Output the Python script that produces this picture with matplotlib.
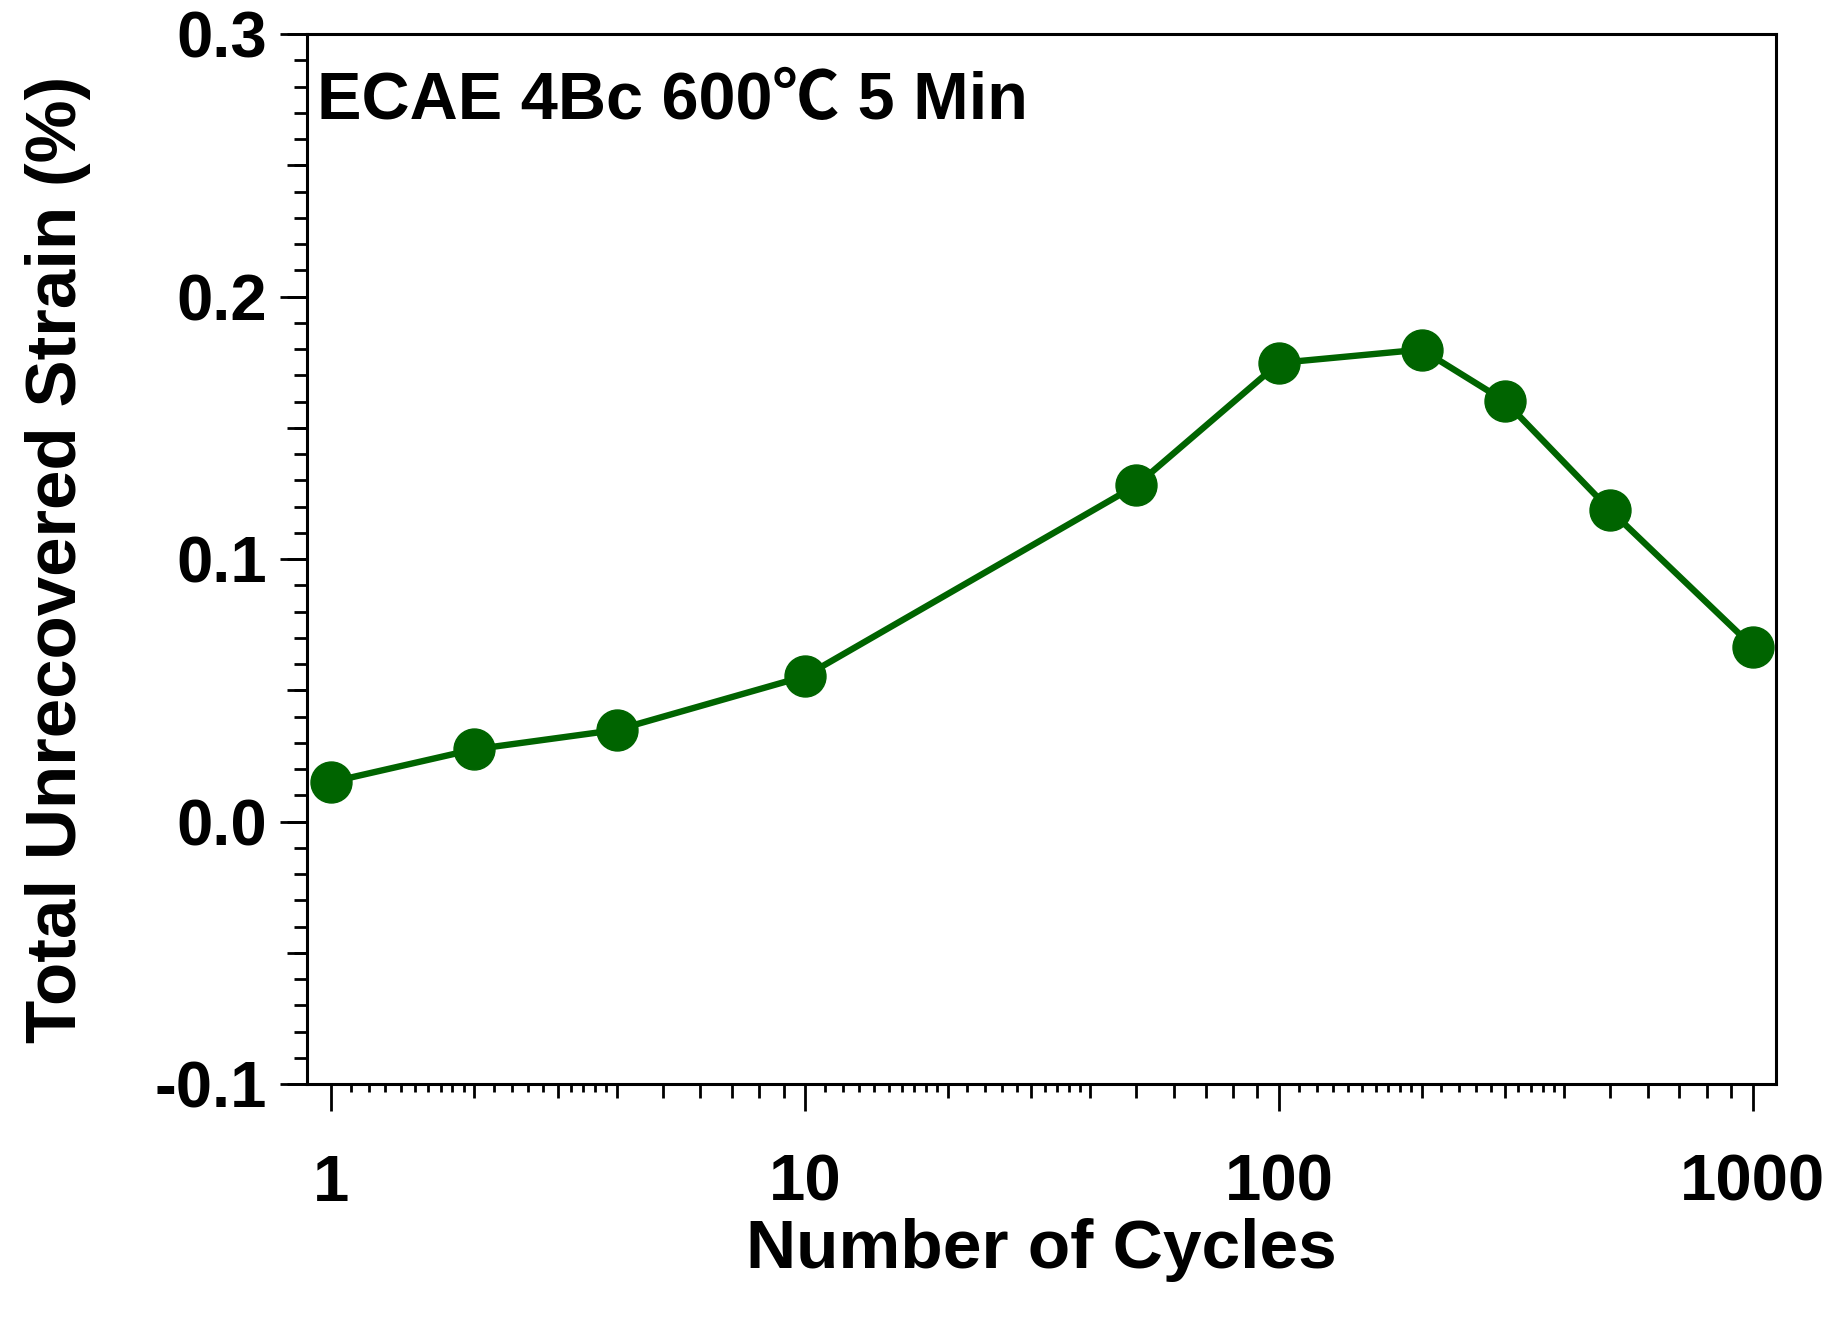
import matplotlib
matplotlib.use("Agg")
import matplotlib.pyplot as plt
import numpy as np
from matplotlib.ticker import (FixedLocator, FixedFormatter, MultipleLocator,
                               NullLocator, NullFormatter)

# data
cycles = [1, 2, 4, 10, 50, 100, 200, 300, 500, 1000]
strain = [0.0151, 0.0275, 0.0349, 0.0554, 0.1281, 0.1747, 0.1798, 0.1601, 0.1186, 0.0666]

x_major = [1, 10, 100, 1000]
x_major_labels = ["1", "10", "100", "1000"]
y_major = [-0.1, 0.0, 0.1, 0.2, 0.3]
y_major_labels = ["-0.1", "0.0", "0.1", "0.2", "0.3"]

annotation = "ECAE 4Bc 600\u2103 5 Min"
xlabel = "Number of Cycles"
ylabel = "Total Unrecovered Strain (%)"

plt.rcParams["font.family"] = ["Liberation Sans", "Noto Sans CJK SC", "DejaVu Sans"]
plt.rcParams["font.weight"] = "bold"

GREEN = "#006400"

# Origin-style log ticks: long at decades, medium at 2..9, short in between
decades = [1, 10, 100]
fine = np.r_[np.arange(1.1, 1.95, 0.1), np.arange(2.2, 2.9, 0.2), np.arange(3.2, 3.9, 0.2)]
x_mid = [d * m for d in decades for m in range(2, 10)]
x_fine = [d * f for d in decades for f in fine]

fig = plt.figure(figsize=(18.43, 13.18), dpi=100)
ax = fig.add_axes([0.1666, 0.1775, 0.7971, 0.7967])

ax.plot(cycles, strain, "-o", color=GREEN, lw=4.6, ms=29.5,
        markeredgecolor=GREEN, zorder=3)

ax.set_xscale("log")
ax.set_xlim(0.888, 1120)
ax.set_ylim(-0.1, 0.3)

ax.xaxis.set_major_locator(FixedLocator(x_major))
ax.xaxis.set_major_formatter(FixedFormatter(x_major_labels))
ax.xaxis.set_minor_locator(FixedLocator(x_fine))
ax.xaxis.set_minor_formatter(NullFormatter())
ax.yaxis.set_major_locator(FixedLocator(y_major))
ax.yaxis.set_major_formatter(FixedFormatter(y_major_labels))
ax.yaxis.set_minor_locator(MultipleLocator(0.01))

for sp in ax.spines.values():
    sp.set_linewidth(2.2)

ax.tick_params(axis="both", which="both", direction="out", width=2.0,
               top=False, right=False, labelsize=47)
ax.tick_params(axis="x", which="major", length=19.3, pad=31)
ax.tick_params(axis="x", which="minor", length=5.5)
ax.tick_params(axis="y", which="major", length=19.3, pad=9.5)
ax.tick_params(axis="y", which="minor", length=9.6)

# medium ticks via secondary axes (no labels)
secx = ax.secondary_xaxis("bottom")
secx.xaxis.set_major_locator(FixedLocator(x_mid))
secx.xaxis.set_major_formatter(NullFormatter())
secx.xaxis.set_minor_locator(NullLocator())
secx.xaxis.set_minor_formatter(NullFormatter())
secx.tick_params(axis="x", which="major", direction="out", length=10,
                 width=2.0, labelbottom=False)
secx.spines["bottom"].set_visible(False)

secy = ax.secondary_yaxis("left")
secy.yaxis.set_major_locator(MultipleLocator(0.05))
secy.yaxis.set_major_formatter(NullFormatter())
secy.yaxis.set_minor_locator(NullLocator())
secy.tick_params(axis="y", which="major", direction="out", length=14.4,
                 width=2.0, labelleft=False)
secy.spines["left"].set_visible(False)

for lab in ax.get_xticklabels() + ax.get_yticklabels():
    lab.set_fontweight("bold")

ax.set_xlabel(xlabel, fontsize=50, fontweight="bold")
ax.xaxis.set_label_coords(0.5, -0.1276)
ax.set_ylabel(ylabel, fontsize=51, fontweight="bold")
ax.yaxis.set_label_coords(-0.147, 0.5)

ax.text(0.0068, 0.9188, annotation, transform=ax.transAxes, fontsize=48,
        fontweight="bold", ha="left", va="baseline")

fig.savefig("out.png", dpi=100)
